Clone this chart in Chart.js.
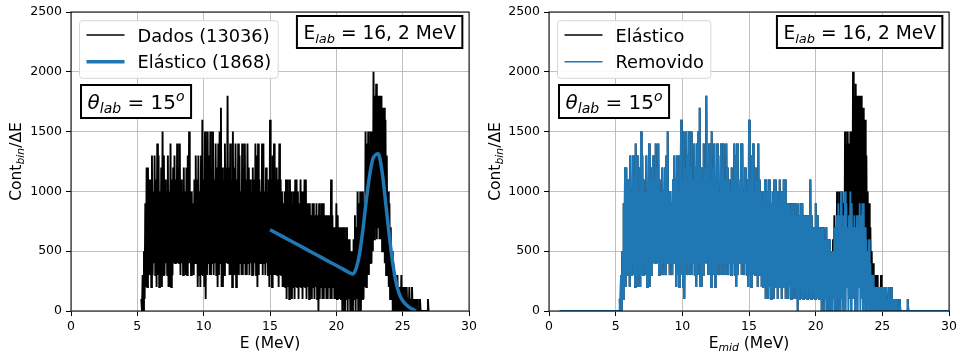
<!DOCTYPE html>
<html>
<head>
<meta charset="utf-8">
<script src="https://cdn.jsdelivr.net/npm/chart.js@4.4.1/dist/chart.umd.min.js"></script>
<style>
  html, body { margin: 0; padding: 0; background: #fff; }
  #wrap { position: relative; width: 960px; height: 358px; }
  canvas { position: absolute; top: 0; }
</style>
</head>
<body>
<div id="wrap">
  <canvas id="left" width="480" height="358" style="left:0"></canvas>
  <canvas id="right" width="480" height="358" style="left:480px"></canvas>
</div>
<script>
const binStart = 5.3;
const binStep = 0.1;
const countScale = 100;          // counts -> Cont_bin/ΔE
const emptyEdges = [0.8, 30];    // "Removido" sits on zero outside the data

const dataHi = [
  1, 3, 5, 9, 12, 12, 11,
  11, 13, 10, 13, 11, 14, 13, 10, 12, 15,
  13, 11, 10, 13, 10, 14, 11, 12, 13, 11,
  14, 12, 14, 11, 10, 12, 10, 12, 13, 15,
  10, 10, 9, 11, 13, 11, 13, 10, 13, 16,
  11, 15, 12, 15, 13, 15, 12, 15, 11, 14,
  12, 14, 15, 17, 12, 11, 14, 12, 18, 12,
  14, 11, 15, 12, 14, 11, 14, 13, 10, 14,
  12, 14, 11, 14, 12, 11, 10, 12, 11, 14,
  13, 14, 11, 10, 14, 14, 10, 12, 10, 11,
  16, 11, 13, 14, 10, 12, 11, 14, 11, 10,
  9, 10, 11, 11, 10, 11, 10, 9, 10, 11,
  11, 10, 9, 11, 10, 10, 11, 11, 9, 9,
  9, 8, 9, 9, 8, 9, 8, 9, 8, 9,
  9, 8, 8, 8, 8, 8, 11, 8, 7, 7,
  9, 8, 7, 7, 7, 7, 7, 6, 7, 6,
  6, 5, 5, 6, 8, 7, 10, 9, 10, 10,
  10, 9, 15, 14, 15, 14, 15, 15, 20, 18,
  19, 18, 18, 18, 18, 17, 17, 16, 13, 10,
  9, 7, 5, 4, 3, 3, 3, 2, 2, 3,
  2, 2, 2, 2, 1, 2, 1, 2, 1, 1,
  1, 1, 0, 1, 0, 0, 0, 0, 0, 1
];
const dataLo = [
  0, 0, 1, 2, 2, 3, 3,
  2, 3, 4, 3, 2, 3, 2, 3, 2, 3,
  3, 4, 3, 2, 2, 2, 3, 4, 4, 4,
  4, 4, 3, 4, 3, 4, 3, 3, 4, 4,
  3, 4, 3, 4, 4, 2, 3, 2, 3, 3,
  2, 1, 3, 4, 3, 3, 4, 3, 4, 3,
  2, 3, 4, 2, 2, 3, 4, 4, 4, 3,
  3, 2, 3, 3, 2, 3, 3, 4, 3, 3,
  4, 3, 3, 4, 3, 4, 3, 3, 4, 3,
  2, 3, 4, 4, 3, 4, 3, 4, 3, 2,
  3, 2, 3, 3, 3, 3, 2, 3, 3, 2,
  2, 2, 1, 2, 1, 2, 1, 2, 1, 2,
  2, 1, 2, 2, 1, 2, 2, 1, 2, 1,
  2, 1, 2, 1, 2, 1, 0, 1, 2, 1,
  1, 2, 1, 1, 2, 1, 1, 2, 1, 1,
  1, 1, 1, 1, 0, 1, 0, 1, 0, 1,
  0, 0, 0, 1, 0, 1, 0, 1, 0, 1,
  1, 2, 2, 3, 3, 4, 4, 5, 6, 7,
  6, 7, 6, 6, 5, 5, 4, 3, 3, 2,
  1, 1, 0, 0, 0, 0, 0, 0, 0, 0,
  0, 0, 0, 0, 0, 0, 0, 0, 0, 0,
  0, 0, 0, 0, 0, 0, 0, 0, 0, 0
];

// "Removido": identical to the data below 21.3 MeV, peak taken out above
const removedStart = 21.3;
const removedHi = [
  5, 7, 7, 8, 9, 8, 10,
  7, 8, 10, 9, 7, 8, 10, 9, 7, 8,
  7, 8, 7, 9, 8, 9, 9, 7, 6, 5,
  6, 4, 3, 3, 2, 2, 2, 2, 2, 2,
  2, 2, 2, 2, 1, 2, 1, 2, 1, 1,
  1, 1, 0, 1, 0, 0, 0, 0, 0, 1
];
const removedLo = [
  1, 0, 1, 0, 1, 0, 1,
  0, 1, 0, 2, 0, 1, 0, 1, 1, 0,
  1, 0, 2, 0, 1, 0, 1, 0, 0, 1,
  0, 0, 0, 0, 0, 0, 0, 0, 0, 0,
  0, 0, 0, 0, 0, 0, 0, 0, 0, 0,
  0, 0, 0, 0, 0, 0, 0, 0, 0, 0
];

// elastic fit curve
const fitEnergy = [15, 15.5, 16, 16.5, 17, 17.5, 18, 18.5, 19, 19.5, 20, 20.5, 21, 21.25,
  21.5, 21.75, 22, 22.25, 22.5, 22.75, 23, 23.15, 23.25, 23.5, 23.75, 24, 24.25, 24.5,
  24.75, 25, 25.5, 26];
const fitValue = [680, 650, 620, 590, 560, 530, 500, 470, 440, 410, 380, 350, 320, 310,
  360, 480, 680, 920, 1130, 1270, 1310, 1315, 1290, 1120, 870, 620, 400, 240,
  140, 85, 30, 0];

const xTicks = [0, 5, 10, 15, 20, 25, 30];
const yTicks = [0, 500, 1000, 1500, 2000, 2500];

const C0 = '#1f77b4';
const FONT = '"DejaVu Sans", sans-serif';

function envelope(start, hi, lo) {
  const pts = [];
  hi.forEach((h, i) => {
    const e = start + i * binStep;
    pts.push({ x: e, y: h * countScale });
    pts.push({ x: e + binStep / 2, y: lo[i] * countScale });
  });
  return pts;
}

const dataPts = envelope(binStart, dataHi, dataLo);
const cut = Math.round((removedStart - binStart) / binStep);
const dataEnd = binStart + dataHi.length * binStep;
const removedPts = [{ x: emptyEdges[0], y: 0 }, { x: binStart, y: 0 }]
  .concat(envelope(binStart, dataHi.slice(0, cut), dataLo.slice(0, cut)))
  .concat(envelope(removedStart, removedHi, removedLo))
  .concat([{ x: dataEnd, y: 0 }, { x: emptyEdges[1], y: 0 }]);
const fitPts = fitEnergy.map((e, i) => ({ x: e, y: fitValue[i] }));

// text with sub/superscripts: parts = [[text, kind]]
function partFont(kind, size) {
  if (kind === 'sub' || kind === 'sup') return 'italic ' + (size * 0.7) + 'px ' + FONT;
  if (kind === 'i') return 'italic ' + size + 'px ' + FONT;
  return size + 'px ' + FONT;
}
function richWidth(ctx, parts, size) {
  let w = 0;
  parts.forEach(([t, kind]) => {
    ctx.font = partFont(kind, size);
    w += ctx.measureText(t).width;
  });
  return w;
}
function drawRich(ctx, parts, x, y, size) {
  let cx = x;
  parts.forEach(([t, kind]) => {
    ctx.font = partFont(kind, size);
    let dy = 0;
    if (kind === 'sub') dy = size * 0.22;
    if (kind === 'sup') dy = -size * 0.38;
    ctx.fillText(t, cx, y + dy);
    cx += ctx.measureText(t).width;
  });
}

const decor = {
  id: 'decor',
  afterDraw(chart, args, o) {
    const ctx = chart.ctx, a = chart.chartArea;
    ctx.save();
    ctx.textBaseline = 'alphabetic';
    ctx.textAlign = 'left';

    // spines
    ctx.strokeStyle = '#000';
    ctx.lineWidth = 1;
    ctx.strokeRect(a.left, a.top, a.right - a.left, a.bottom - a.top);

    // axis titles
    ctx.fillStyle = '#000';
    const xs = 15.5;
    drawRich(ctx, o.xTitle, (a.left + a.right) / 2 - richWidth(ctx, o.xTitle, xs) / 2, 348, xs);
    ctx.save();
    ctx.translate(o.yTitleX, (a.top + a.bottom) / 2);
    ctx.rotate(-Math.PI / 2);
    drawRich(ctx, o.yTitle, -richWidth(ctx, o.yTitle, xs) / 2, 0, xs);
    ctx.restore();

    // legend
    const ls = 17.8;
    const bx = a.left + 8.5, by = a.top + 8.7;
    ctx.font = ls + 'px ' + FONT;
    const textX = bx + 58;
    const maxW = Math.max(...o.legend.map(it => ctx.measureText(it.label).width));
    const bw = textX - bx + maxW + 7, bh = 57.6;
    ctx.beginPath();
    ctx.roundRect(bx, by, bw, bh, 3);
    ctx.fillStyle = 'rgba(255,255,255,0.92)';
    ctx.fill();
    ctx.strokeStyle = '#d6d6d6';
    ctx.lineWidth = 1;
    ctx.stroke();
    o.legend.forEach((it, i) => {
      const ly = by + 14.3 + i * 26.7;
      ctx.beginPath();
      ctx.moveTo(bx + 7, ly);
      ctx.lineTo(bx + 45, ly);
      ctx.strokeStyle = it.color;
      ctx.lineWidth = it.width;
      ctx.stroke();
      ctx.fillStyle = '#000';
      ctx.font = ls + 'px ' + FONT;
      ctx.fillText(it.label, textX, ly + 6.7);
    });

    // annotation boxes
    const boxes = [
      { parts: o.energy, size: 18.6, right: a.right - 6.7, top: a.top + 4, h: 32 },
      { parts: o.angle, size: 20, left: a.left + 10, top: a.top + 73, h: 33 }
    ];
    boxes.forEach(b => {
      const tw = richWidth(ctx, b.parts, b.size);
      const w = tw + 13;
      const x0 = b.left !== undefined ? b.left : b.right - w;
      ctx.fillStyle = '#fff';
      ctx.fillRect(x0, b.top, w, b.h);
      ctx.strokeStyle = '#000';
      ctx.lineWidth = 2;
      ctx.strokeRect(x0, b.top, w, b.h);
      ctx.fillStyle = '#000';
      drawRich(ctx, b.parts, x0 + 6.5, b.top + b.h / 2 + b.size * 0.365, b.size);
    });
    ctx.restore();
  }
};

const tickFont = { family: FONT, size: 12.5 };

function makeChart(id, datasets, decorOpts, yWidth, padRight) {
  return new Chart(document.getElementById(id), {
    type: 'line',
    data: { datasets: datasets },
    options: {
      responsive: false,
      animation: false,
      devicePixelRatio: 1,
      layout: { padding: { top: 12, right: padRight, bottom: 0, left: 0 } },
      plugins: { legend: { display: false }, tooltip: { enabled: false }, decor: decorOpts },
      elements: { point: { radius: 0 }, line: { tension: 0 } },
      scales: {
        x: {
          type: 'linear',
          min: xTicks[0],
          max: xTicks[xTicks.length - 1],
          afterFit: s => { s.height = 47; },
          afterBuildTicks: s => { s.ticks = xTicks.map(v => ({ value: v })); },
          ticks: { color: '#000', font: tickFont, padding: 3, maxRotation: 0, callback: v => String(v) },
          grid: { color: '#b0b0b0', lineWidth: 0.8, tickLength: 5, tickColor: '#000', tickWidth: 1 },
          border: { display: false }
        },
        y: {
          type: 'linear',
          min: yTicks[0],
          max: yTicks[yTicks.length - 1],
          afterFit: s => { s.width = yWidth; },
          afterBuildTicks: s => { s.ticks = yTicks.map(v => ({ value: v })); },
          ticks: { color: '#000', font: tickFont, padding: 4, callback: v => String(v) },
          grid: { color: '#b0b0b0', lineWidth: 0.8, tickLength: 5, tickColor: '#000', tickWidth: 1 },
          border: { display: false }
        }
      }
    },
    plugins: [decor]
  });
}

const energyLabel = [['E', ''], ['lab', 'sub'], [' = 16, 2 MeV', '']];
const angleLabel = [['θ', 'i'], ['lab', 'sub'], [' = 15', ''], ['o', 'sup']];
const yLabel = [['Cont', ''], ['bin', 'sub'], ['/ΔE', '']];

// lower "order" is painted on top
makeChart('left', [
  { label: 'Dados (13036)', data: dataPts, borderColor: '#000', borderWidth: 1.9, order: 2 },
  { label: 'Elástico (1868)', data: fitPts, borderColor: C0, borderWidth: 3.5, cubicInterpolationMode: 'monotone', order: 1 }
], {
  xTitle: [['E (MeV)', '']],
  yTitle: yLabel,
  yTitleX: 20.5,
  legend: [
    { label: 'Dados (13036)', color: '#000', width: 1.5 },
    { label: 'Elástico (1868)', color: C0, width: 3.5 }
  ],
  energy: energyLabel,
  angle: angleLabel
}, 71, 8);

makeChart('right', [
  { label: 'Elástico', data: dataPts, borderColor: '#000', borderWidth: 1.9, order: 2 },
  { label: 'Removido', data: removedPts, borderColor: C0, borderWidth: 1.9, order: 1 }
], {
  xTitle: [['E', ''], ['mid', 'sub'], [' (MeV)', '']],
  yTitle: yLabel,
  yTitleX: 19.5,
  legend: [
    { label: 'Elástico', color: '#000', width: 1.5 },
    { label: 'Removido', color: C0, width: 1.5 }
  ],
  energy: energyLabel,
  angle: angleLabel
}, 69, 10);
</script>
</body>
</html>
